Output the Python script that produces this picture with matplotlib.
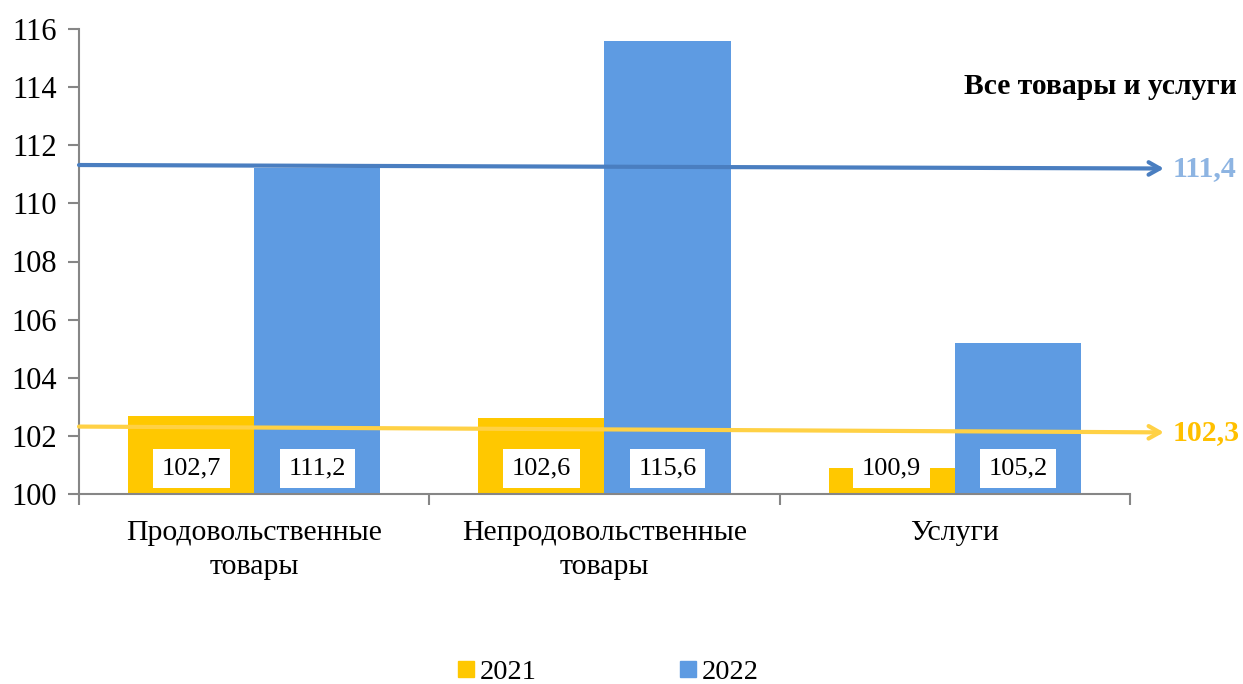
import matplotlib
matplotlib.use("Agg")
import matplotlib.pyplot as plt
from matplotlib.lines import Line2D
import numpy as np

categories = ["Продовольственные\nтовары", "Непродовольственные\nтовары", "Услуги"]
series_names = ["2021", "2022"]
values_2021 = [102.7, 102.6, 100.9]
values_2022 = [111.2, 115.6, 105.2]
total_labels = ["111,4", "102,3"]
total_line_2022 = [111.32, 111.2]   # level at left / right end of the line
total_line_2021 = [102.32, 102.12]
title_text = "Все товары и услуги"
yticks = [100, 102, 104, 106, 108, 110, 112, 114, 116]

c21 = "#FFC800"
c22 = "#5E9BE2"
line22 = "#4A7EC0"
line21 = "#FFD145"
lbl22 = "#8DB4E2"
lbl21 = "#FFC000"

plt.rcParams["font.family"] = ["Liberation Serif", "DejaVu Serif"]

fig = plt.figure(figsize=(12.43, 6.84), dpi=100)
ax = fig.add_axes([79/1243, 1-494/684, (1130-79)/1243, (494-29)/684])

x = np.arange(len(categories))
w = 0.36
ax.bar(x - w/2, [v - 100 for v in values_2021], w, bottom=100, color=c21, zorder=2)
ax.bar(x + w/2, [v - 100 for v in values_2022], w, bottom=100, color=c22, zorder=2)

def fmt(v):
    return f"{v:.1f}".replace(".", ",")

for xs, vals in ((x - w/2, values_2021), (x + w/2, values_2022)):
    for xi, v in zip(xs, vals):
        ax.text(xi, 100.88, fmt(v), ha="center", va="center", fontsize=19,
                color="black", zorder=5,
                bbox=dict(boxstyle="square,pad=0.33", fc="white", ec="none"))

ax.set_xlim(-0.5, 2.5)
ax.set_ylim(100, 116)
ax.set_yticks(yticks)
ax.set_yticklabels([str(t) for t in yticks], fontsize=22)
ax.set_xticks([-0.5, 0.5, 1.5, 2.5])
ax.set_xticklabels([])
ax.set_xticks(x, minor=True)
ax.set_xticklabels(categories, minor=True, fontsize=21.5, linespacing=1.38)
ax.tick_params(axis="x", which="minor", length=0, pad=19)
ax.tick_params(axis="x", which="major", length=8, color="#868686", width=1.5)
ax.tick_params(axis="y", length=8, color="#868686", width=1.5, pad=8)
for s in ("top", "right"):
    ax.spines[s].set_visible(False)
for s in ("left", "bottom"):
    ax.spines[s].set_color("#868686")
    ax.spines[s].set_linewidth(1.5)

# total lines with arrows
x_end = 2.5 + 34/351
for yl, col in ((total_line_2022, line22), (total_line_2021, line21)):
    ax.annotate("", xy=(x_end, yl[1]), xytext=(-0.5, yl[0]),
                xycoords="data", textcoords="data", annotation_clip=False,
                arrowprops=dict(arrowstyle="->,head_length=0.8,head_width=0.45",
                                color=col, lw=3, shrinkA=0, shrinkB=0), zorder=4)

ax.text(x_end + 0.025, total_line_2022[1], total_labels[0], ha="left", va="center",
        fontsize=21.5, fontweight="bold", color=lbl22, clip_on=False)
ax.text(x_end + 0.025, total_line_2021[1], total_labels[1], ha="left", va="center",
        fontsize=21.5, fontweight="bold", color=lbl21, clip_on=False)

fig.text(1237/1243, 1-87/684, title_text, ha="right", va="center",
         fontsize=21.3, fontweight="bold", color="black")

handles = [Line2D([], [], marker="s", linestyle="none", markersize=11, color=c21),
           Line2D([], [], marker="s", linestyle="none", markersize=11, color=c22)]
fig.legend(handles, series_names, loc="center", bbox_to_anchor=(608/1243, 1-672/684),
           ncol=2, frameon=False, fontsize=20.5, handlelength=0.6, handletextpad=0.2,
           columnspacing=5.0, borderaxespad=0)

fig.savefig("out.png", dpi=100)
